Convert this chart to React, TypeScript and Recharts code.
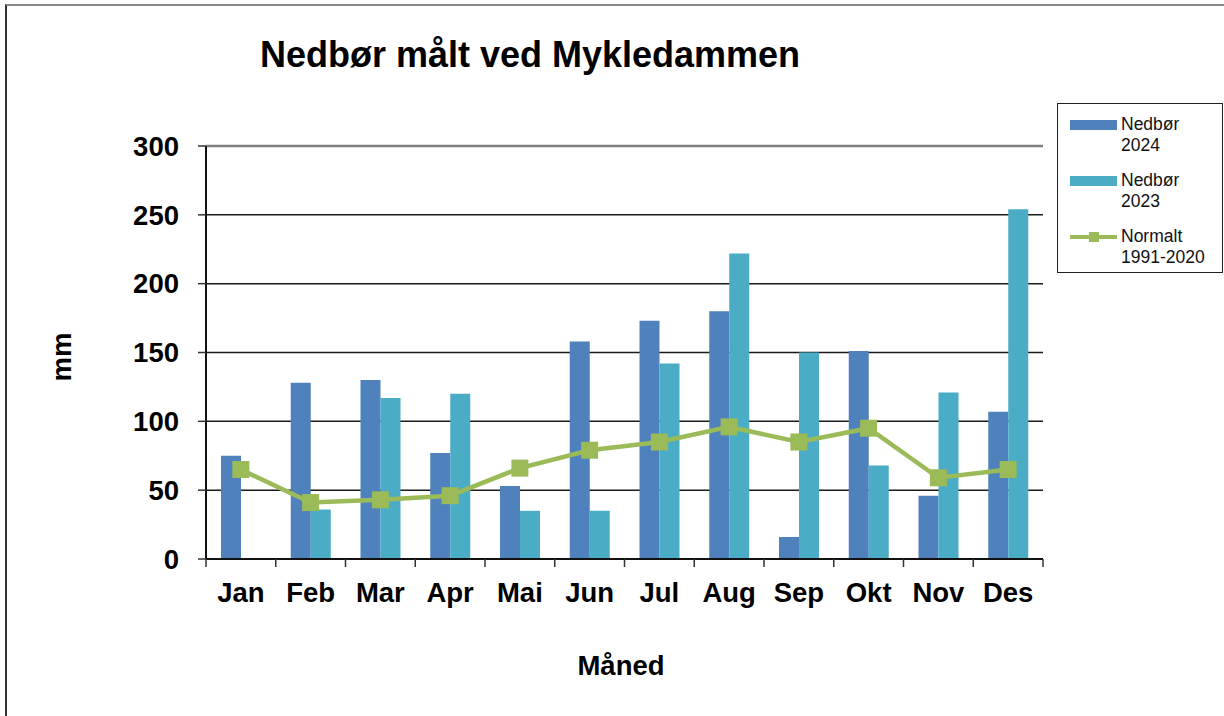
import {
  Bar,
  CartesianGrid,
  ComposedChart,
  Legend,
  Line,
  ReferenceLine,
  XAxis,
  YAxis,
} from 'recharts';

const months = ['Jan', 'Feb', 'Mar', 'Apr', 'Mai', 'Jun', 'Jul', 'Aug', 'Sep', 'Okt', 'Nov', 'Des'];
const nedbor2024 = [75, 128, 130, 77, 53, 158, 173, 180, 16, 151, 46, 107];
const nedbor2023 = [null, 36, 117, 120, 35, 35, 142, 222, 150, 68, 121, 254];
const normalt = [65, 41, 43, 46, 66, 79, 85, 96, 85, 95, 59, 65];
const yTicks = [0, 50, 100, 150, 200, 250, 300];

const FONT = '"Liberation Sans", Arial, sans-serif';
const BLUE = '#4F81BD';
const TEAL = '#4BACC6';
const GREEN = '#9BBB59';
const LABEL_GAP = 23;
const AXIS_FONT = 27.5;

const data = months.map((m, i) => ({
  month: m,
  n2024: nedbor2024[i],
  n2023: nedbor2023[i],
  normal: normalt[i],
}));

function SquareDot(props: any) {
  const { cx, cy, index } = props;
  if (cx == null || cy == null) return null;
  return <rect key={`dot-${index}`} x={cx - 8.5} y={cy - 8.5} width={17} height={17} fill={GREEN} />;
}

// month label in the middle, tick marks on the category borders
function MonthTick(props: any) {
  const { x, y, payload, index, width, visibleTicksCount } = props;
  const count = visibleTicksCount || months.length;
  const half = width / count / 2;
  const axisY = y - LABEL_GAP;
  return (
    <g>
      <line x1={x - half} x2={x - half} y1={axisY} y2={axisY + 8} stroke="#333" strokeWidth={1.5} />
      {index === count - 1 && (
        <line x1={x + half} x2={x + half} y1={axisY} y2={axisY + 8} stroke="#333" strokeWidth={1.5} />
      )}
      <text x={x} y={y} dy="0.71em" textAnchor="middle" fill="#000" fontSize={AXIS_FONT} fontWeight="bold" fontFamily={FONT}>
        {payload.value}
      </text>
    </g>
  );
}

function LegendBox() {
  const items = [
    { lines: ['Nedbør', '2024'], kind: 'bar', color: BLUE },
    { lines: ['Nedbør', '2023'], kind: 'bar', color: TEAL },
    { lines: ['Normalt', '1991-2020'], kind: 'line', color: GREEN },
  ];
  return (
    <div
      style={{
        boxSizing: 'border-box',
        width: 166,
        height: 170,
        border: '1.5px solid #222',
        background: '#fff',
        paddingTop: 10,
        fontFamily: FONT,
        fontSize: 17.5,
        lineHeight: '20.5px',
        color: '#111',
      }}
    >
      {items.map((it) => (
        <div key={it.lines.join()} style={{ display: 'flex', height: 56, alignItems: 'flex-start' }}>
          <div style={{ width: 12 }} />
          <div style={{ width: 47, height: 20.5, position: 'relative' }}>
            {it.kind === 'bar' ? (
              <div style={{ position: 'absolute', left: 0, top: 5.5, width: 47, height: 10, background: it.color }} />
            ) : (
              <>
                <div style={{ position: 'absolute', left: 0, top: 8.5, width: 47, height: 4, background: it.color }} />
                <div style={{ position: 'absolute', left: 18.5, top: 5.5, width: 10, height: 10, background: it.color }} />
              </>
            )}
          </div>
          <div style={{ marginLeft: 4, textAlign: 'left' }}>
            {it.lines.map((l) => (
              <div key={l}>{l}</div>
            ))}
          </div>
        </div>
      ))}
    </div>
  );
}

export default function App() {
  return (
    <div style={{ position: 'absolute', left: 0, top: 0, width: 1224, height: 716, background: '#fff', overflow: 'hidden' }}>
      <div
        style={{
          position: 'absolute',
          left: 5,
          top: 4,
          width: 1230,
          height: 730,
          borderLeft: '2px solid #333',
          borderTop: '2px solid #888',
        }}
      />
      <ComposedChart
        width={1224}
        height={716}
        data={data}
        margin={{ top: 146, right: 181, left: 146, bottom: 107 }}
        barGap={0}
        barSize={20}
        style={{ position: 'absolute', left: 0, top: 0 }}
      >
        <CartesianGrid vertical={false} stroke="#1a1a1a" strokeWidth={1.5} />
        <XAxis
          dataKey="month"
          height={50}
          tickLine={false}
          axisLine={{ stroke: '#111', strokeWidth: 2 }}
          tickSize={0}
          tickMargin={LABEL_GAP}
          tick={<MonthTick />}
          interval={0}
        />
        <YAxis
          domain={[0, 300]}
          ticks={yTicks}
          width={60}
          tickSize={8}
          tickMargin={19}
          axisLine={{ stroke: '#111', strokeWidth: 2 }}
          tickLine={{ stroke: '#333', strokeWidth: 1.5 }}
          tick={{ fill: '#000', fontSize: AXIS_FONT, fontWeight: 'bold', fontFamily: FONT }}
          interval={0}
        />
        <YAxis
          yAxisId="right"
          orientation="right"
          domain={[0, 300]}
          width={0}
          tick={false}
          tickLine={false}
          axisLine={{ stroke: '#808080', strokeWidth: 2.5 }}
        />
        <ReferenceLine y={300} stroke="#808080" strokeWidth={2.5} />
        <Legend
          layout="vertical"
          align="center"
          verticalAlign="middle"
          wrapperStyle={{ left: 1057, top: 103, width: 166, height: 170 }}
          content={() => <LegendBox />}
        />
        <Bar dataKey="n2024" name="Nedbør 2024" fill={BLUE} isAnimationActive={false} />
        <Bar dataKey="n2023" name="Nedbør 2023" fill={TEAL} isAnimationActive={false} />
        <Line
          dataKey="normal"
          name="Normalt 1991-2020"
          stroke={GREEN}
          strokeWidth={4.5}
          dot={SquareDot}
          activeDot={false}
          isAnimationActive={false}
        />
      </ComposedChart>
      <svg width={1224} height={716} style={{ position: 'absolute', left: 0, top: 0, pointerEvents: 'none' }}>
        <text x={530} y={67} textAnchor="middle" fontFamily={FONT} fontSize={36} fontWeight="bold" fill="#000">
          Nedbør målt ved Mykledammen
        </text>
        <text
          x={0}
          y={0}
          transform="translate(71 357) rotate(-90)"
          textAnchor="middle"
          fontFamily={FONT}
          fontSize={AXIS_FONT}
          fontWeight="bold"
          fill="#000"
        >
          mm
        </text>
        <text x={621} y={675} textAnchor="middle" fontFamily={FONT} fontSize={AXIS_FONT} fontWeight="bold" fill="#000">
          Måned
        </text>
      </svg>
    </div>
  );
}
